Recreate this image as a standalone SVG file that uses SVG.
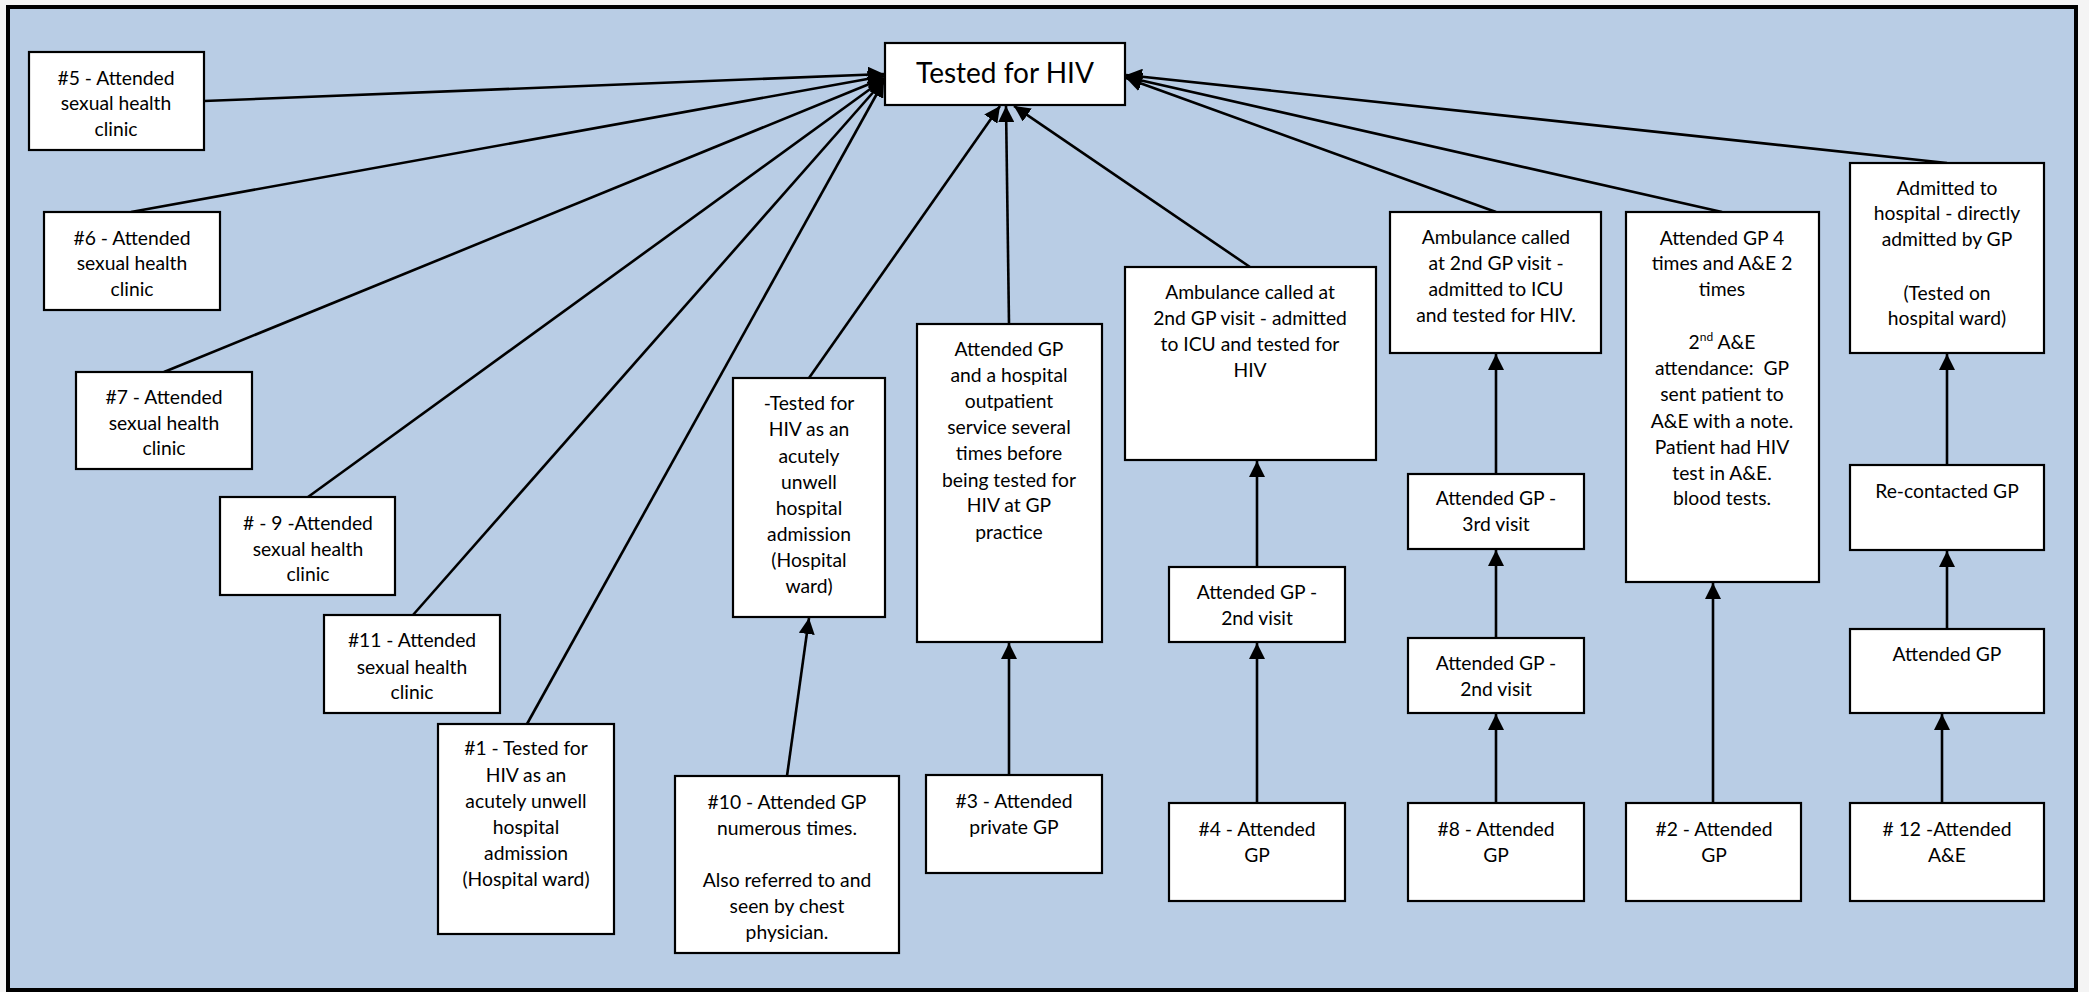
<svg xmlns="http://www.w3.org/2000/svg" width="2089" height="992" viewBox="0 0 2089 992">
<defs>
<style>
.box{fill:#ffffff;stroke:#000000;stroke-width:2.2}
.t{font-family:Lato,"Liberation Sans",sans-serif;font-size:19.3px;fill:#000000;text-anchor:middle}
.big{font-size:28px}
.c{stroke:#000000;stroke-width:2.6;fill:none;marker-end:url(#ah)}
</style>
<marker id="ah" markerUnits="userSpaceOnUse" markerWidth="16" markerHeight="16" refX="16" refY="8" orient="auto" viewBox="0 0 16 16">
<path d="M0,0 L16,8 L0,16 Z" fill="#000000"/>
</marker>
</defs>
<rect x="0" y="0" width="2089" height="992" fill="#f4f4f4"/>
<rect x="8" y="7" width="2068" height="983" fill="#B9CDE5" stroke="#000000" stroke-width="4"/>

<g id="connectors">
<line class="c" x1="204" y1="101" x2="884" y2="74"/>
<line class="c" x1="131" y1="212" x2="884" y2="76"/>
<line class="c" x1="164" y1="372" x2="884" y2="78"/>
<line class="c" x1="308" y1="497" x2="884" y2="79"/>
<line class="c" x1="413" y1="615" x2="884" y2="80"/>
<line class="c" x1="527" y1="724" x2="884" y2="81"/>
<line class="c" x1="809" y1="378" x2="1000" y2="106"/>
<line class="c" x1="1009" y1="324" x2="1006" y2="106"/>
<line class="c" x1="1250" y1="267" x2="1014" y2="106"/>
<line class="c" x1="1496" y1="212" x2="1126" y2="78"/>
<line class="c" x1="1722" y1="212" x2="1126" y2="77"/>
<line class="c" x1="1947" y1="163" x2="1126" y2="75"/>
<line class="c" x1="787" y1="776" x2="809" y2="618"/>
<line class="c" x1="1009" y1="775" x2="1009" y2="643"/>
<line class="c" x1="1257" y1="803" x2="1257" y2="643"/>
<line class="c" x1="1257" y1="567" x2="1257" y2="461"/>
<line class="c" x1="1496" y1="803" x2="1496" y2="714"/>
<line class="c" x1="1496" y1="638" x2="1496" y2="550"/>
<line class="c" x1="1496" y1="474" x2="1496" y2="354"/>
<line class="c" x1="1713" y1="803" x2="1713" y2="583"/>
<line class="c" x1="1942" y1="803" x2="1942" y2="714"/>
<line class="c" x1="1947" y1="629" x2="1947" y2="551"/>
<line class="c" x1="1947" y1="465" x2="1947" y2="354"/>
</g>

<g id="hiv"><rect class="box" x="885" y="43" width="240" height="62"/>
<text class="t big" x="1005" y="83">Tested for HIV</text></g>

<g id="n5"><rect class="box" x="29" y="52" width="175" height="98"/>
<text class="t" x="116" y="85">#5 - Attended</text><text class="t" x="116" y="110">sexual health</text><text class="t" x="116" y="136">clinic</text></g>

<g id="n6"><rect class="box" x="44" y="212" width="176" height="98"/>
<text class="t" x="132" y="245">#6 - Attended</text><text class="t" x="132" y="270">sexual health</text><text class="t" x="132" y="296">clinic</text></g>

<g id="n7"><rect class="box" x="76" y="372" width="176" height="97"/>
<text class="t" x="164" y="404">#7 - Attended</text><text class="t" x="164" y="430">sexual health</text><text class="t" x="164" y="455">clinic</text></g>

<g id="n9"><rect class="box" x="220" y="497" width="175" height="98"/>
<text class="t" x="308" y="530"># - 9 -Attended</text><text class="t" x="308" y="556">sexual health</text><text class="t" x="308" y="581">clinic</text></g>

<g id="n11"><rect class="box" x="324" y="615" width="176" height="98"/>
<text class="t" x="412" y="647">#11 - Attended</text><text class="t" x="412" y="674">sexual health</text><text class="t" x="412" y="699">clinic</text></g>

<g id="n1"><rect class="box" x="438" y="724" width="176" height="210"/>
<text class="t" x="526" y="755">#1 - Tested for</text><text class="t" x="526" y="782">HIV as an</text><text class="t" x="526" y="808">acutely unwell</text><text class="t" x="526" y="834">hospital</text><text class="t" x="526" y="860">admission</text><text class="t" x="526" y="886">(Hospital ward)</text></g>

<g id="nTested"><rect class="box" x="733" y="378" width="152" height="239"/>
<text class="t" x="809" y="410">-Tested for</text><text class="t" x="809" y="436">HIV as an</text><text class="t" x="809" y="463">acutely</text><text class="t" x="809" y="489">unwell</text><text class="t" x="809" y="515">hospital</text><text class="t" x="809" y="541">admission</text><text class="t" x="809" y="567">(Hospital</text><text class="t" x="809" y="593">ward)</text></g>

<g id="n10"><rect class="box" x="675" y="776" width="224" height="177"/>
<text class="t" x="787" y="809">#10 - Attended GP</text><text class="t" x="787" y="835">numerous times.</text><text class="t" x="787" y="887">Also referred to and</text><text class="t" x="787" y="913">seen by chest</text><text class="t" x="787" y="939">physician.</text></g>

<g id="nGPhosp"><rect class="box" x="917" y="324" width="185" height="318"/>
<text class="t" x="1009" y="356">Attended GP</text><text class="t" x="1009" y="382">and a hospital</text><text class="t" x="1009" y="408">outpatient</text><text class="t" x="1009" y="434">service several</text><text class="t" x="1009" y="460">times before</text><text class="t" x="1009" y="487">being tested for</text><text class="t" x="1009" y="512">HIV at GP</text><text class="t" x="1009" y="539">practice</text></g>

<g id="n3"><rect class="box" x="926" y="775" width="176" height="98"/>
<text class="t" x="1014" y="808">#3 - Attended</text><text class="t" x="1014" y="834">private GP</text></g>

<g id="nAmb4"><rect class="box" x="1125" y="267" width="251" height="193"/>
<text class="t" x="1250" y="299">Ambulance called at</text><text class="t" x="1250" y="325">2nd GP visit - admitted</text><text class="t" x="1250" y="351">to ICU and tested for</text><text class="t" x="1250" y="377">HIV</text></g>

<g id="n4gp2"><rect class="box" x="1169" y="567" width="176" height="75"/>
<text class="t" x="1257" y="599">Attended GP -</text><text class="t" x="1257" y="625">2nd visit</text></g>

<g id="n4"><rect class="box" x="1169" y="803" width="176" height="98"/>
<text class="t" x="1257" y="836">#4 - Attended</text><text class="t" x="1257" y="862">GP</text></g>

<g id="nAmb5"><rect class="box" x="1390" y="212" width="211" height="141"/>
<text class="t" x="1496" y="244">Ambulance called</text><text class="t" x="1496" y="270">at 2nd GP visit -</text><text class="t" x="1496" y="296">admitted to ICU</text><text class="t" x="1496" y="322">and tested for HIV.</text></g>

<g id="n8gp3"><rect class="box" x="1408" y="474" width="176" height="75"/>
<text class="t" x="1496" y="505">Attended GP -</text><text class="t" x="1496" y="531">3rd visit</text></g>

<g id="n8gp2"><rect class="box" x="1408" y="638" width="176" height="75"/>
<text class="t" x="1496" y="670">Attended GP -</text><text class="t" x="1496" y="696">2nd visit</text></g>

<g id="n8"><rect class="box" x="1408" y="803" width="176" height="98"/>
<text class="t" x="1496" y="836">#8 - Attended</text><text class="t" x="1496" y="862">GP</text></g>

<g id="nGP4"><rect class="box" x="1626" y="212" width="193" height="370"/>
<text class="t" x="1722" y="245">Attended GP 4</text><text class="t" x="1722" y="270">times and A&amp;E 2</text><text class="t" x="1722" y="296">times</text>
<text class="t" x="1722" y="349">2<tspan font-size="12" dy="-8">nd</tspan><tspan dy="8"> A&amp;E</tspan></text>
<text class="t" x="1722" y="375">attendance:&#160; GP</text><text class="t" x="1722" y="401">sent patient to</text><text class="t" x="1722" y="428">A&amp;E with a note.</text><text class="t" x="1722" y="454">Patient had HIV</text><text class="t" x="1722" y="480">test in A&amp;E.</text><text class="t" x="1722" y="505">blood tests.</text></g>

<g id="n2"><rect class="box" x="1626" y="803" width="175" height="98"/>
<text class="t" x="1714" y="836">#2 - Attended</text><text class="t" x="1714" y="862">GP</text></g>

<g id="nAdm"><rect class="box" x="1850" y="163" width="194" height="190"/>
<text class="t" x="1947" y="195">Admitted to</text><text class="t" x="1947" y="220">hospital - directly</text><text class="t" x="1947" y="246">admitted by GP</text><text class="t" x="1947" y="300">(Tested on</text><text class="t" x="1947" y="325">hospital ward)</text></g>

<g id="nRecon"><rect class="box" x="1850" y="465" width="194" height="85"/>
<text class="t" x="1947" y="498">Re-contacted GP</text></g>

<g id="nGP7"><rect class="box" x="1850" y="629" width="194" height="84"/>
<text class="t" x="1947" y="661">Attended GP</text></g>

<g id="n12"><rect class="box" x="1850" y="803" width="194" height="98"/>
<text class="t" x="1947" y="836"># 12 -Attended</text><text class="t" x="1947" y="862">A&amp;E</text></g>
</svg>
